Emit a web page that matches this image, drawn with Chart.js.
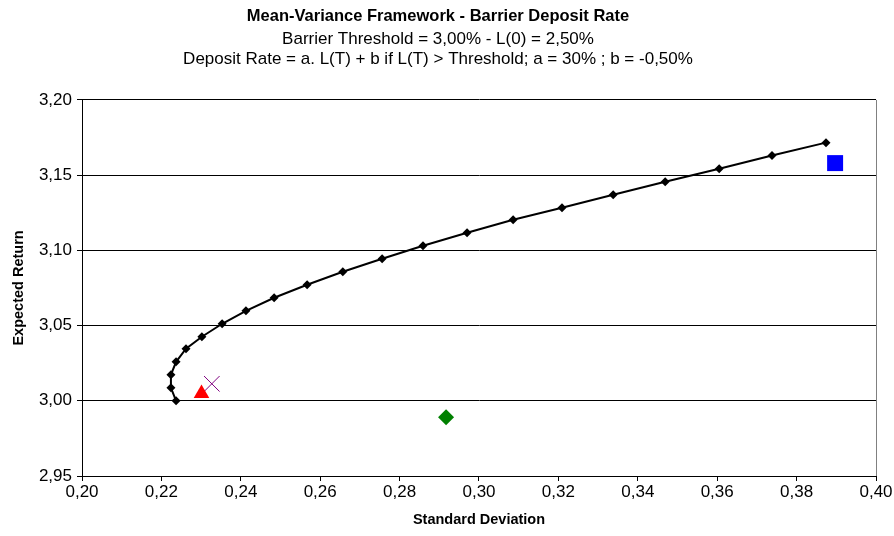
<!DOCTYPE html>
<html>
<head>
<meta charset="utf-8">
<script src="https://cdn.jsdelivr.net/npm/chart.js@4.4.0/dist/chart.umd.min.js"></script>
<style>
  html, body { margin: 0; padding: 0; background: #fff; }
  #wrap { width: 894px; height: 536px; }
</style>
</head>
<body>
<div id="wrap"><canvas id="myChart" width="894" height="536"></canvas></div>
<script>
// efficient frontier
const frontierSd = [0.2237,0.2224,0.2224,0.2237,0.2262,0.2302,0.2353,0.2413,0.2484,0.2567,0.2657,
                    0.2756,0.2859,0.2970,0.3086,0.3209,0.3338,0.3469,0.3605,0.3738,0.3874];
const frontierRet = [3.0000,3.0086,3.0173,3.0259,3.0346,3.0426,3.0512,3.0598,3.0685,3.0771,3.0858,
                     3.0944,3.1031,3.1117,3.1203,3.1283,3.1370,3.1456,3.1543,3.1630,3.1716];
// single portfolios
const triangleSd = [0.2301], triangleRet = [3.0048];
const crossSd = [0.2327], crossRet = [3.0113];
const squareSd = [0.3897], squareRet = [3.1580];
const diamondSd = [0.2917], diamondRet = [2.9890];

const titleText = "Mean-Variance Framework - Barrier Deposit Rate";
const subtitleLines = ["Barrier Threshold = 3,00% - L(0) = 2,50%",
                       "Deposit Rate = a. L(T) + b if L(T) > Threshold; a = 30% ; b = -0,50%"];

function toPoints(xs, ys)
{
  let pts = [];
  for (var i = 0; i < xs.length; i++)
    pts.push({x: xs[i], y: ys[i]});
  return pts;
}
function comma(v)
{
  return v.toFixed(2).replace('.', ',');
}

// gray border on the right side of the plot area
const plotBorder = {
  id: 'plotBorder',
  afterDraw(chart) {
    const a = chart.chartArea, ctx = chart.ctx;
    ctx.save();
    ctx.strokeStyle = '#808080';
    ctx.lineWidth = 1;
    ctx.beginPath();
    ctx.moveTo(Math.round(a.right) + 0.5, a.top);
    ctx.lineTo(Math.round(a.right) + 0.5, a.bottom);
    ctx.stroke();
    ctx.restore();
  }
};

Chart.defaults.font.family = "'Liberation Sans', Arial, sans-serif";
Chart.defaults.color = '#000';

const ctx = document.getElementById('myChart').getContext('2d');
const myChart = new Chart(ctx, {
  type: 'scatter',
  data: {
    datasets: [
      {
        data: toPoints(frontierSd, frontierRet),
        showLine: true,
        borderColor: '#000',
        borderWidth: 2,
        pointStyle: 'rectRot',
        pointRadius: 4.5,
        backgroundColor: '#000',
        pointBorderWidth: 0,
        tension: 0
      },
      {
        data: toPoints(triangleSd, triangleRet),
        pointStyle: 'triangle',
        pointRadius: 9,
        backgroundColor: '#ff0000',
        borderColor: '#ff0000',
        pointBorderWidth: 0
      },
      {
        data: toPoints(crossSd, crossRet),
        pointStyle: 'crossRot',
        pointRadius: 11,
        borderColor: '#800080',
        pointBorderWidth: 1
      },
      {
        data: toPoints(squareSd, squareRet),
        pointStyle: 'rect',
        pointRadius: 11.3,
        backgroundColor: '#0000ff',
        borderColor: '#0000ff',
        pointBorderWidth: 0
      },
      {
        data: toPoints(diamondSd, diamondRet),
        pointStyle: 'rectRot',
        pointRadius: 8,
        backgroundColor: '#008000',
        borderColor: '#008000',
        pointBorderWidth: 0
      }
    ]
  },
  options: {
    responsive: false,
    animation: false,
    layout: { padding: { left: 0, right: 18, top: 0, bottom: 0 } },
    plugins: {
      legend: { display: false },
      tooltip: { enabled: false },
      title: {
        display: true,
        text: titleText,
        font: { size: 16.5, weight: 'bold', lineHeight: 1.2 },
        padding: { top: 7, bottom: 2 }
      },
      subtitle: {
        display: true,
        text: subtitleLines,
        font: { size: 17, lineHeight: 1.18 },
        color: '#000',
        padding: { top: 0, bottom: 31 }
      }
    },
    scales: {
      x: {
        type: 'linear',
        min: 0.20,
        max: 0.40,
        afterFit: function(s) { s.height = 60; },
        ticks: {
          stepSize: 0.02,
          font: { size: 17 },
          padding: 1,
          maxRotation: 0,
          callback: function(v) { return comma(v); }
        },
        grid: { drawOnChartArea: false, color: '#000', tickLength: 5 },
        border: { color: '#000' },
        title: {
          display: true,
          text: 'Standard Deviation',
          font: { size: 14.5, weight: 'bold' },
          padding: { top: 0, bottom: 7 }
        }
      },
      y: {
        type: 'linear',
        min: 2.95,
        max: 3.20,
        afterFit: function(s) { s.width = 82; },
        ticks: {
          stepSize: 0.05,
          font: { size: 17 },
          padding: 5,
          callback: function(v) { return comma(v); }
        },
        grid: { color: '#000', tickLength: 5 },
        border: { color: '#000' },
        title: {
          display: true,
          text: 'Expected Return',
          font: { size: 14.5, weight: 'bold' },
          padding: { top: 10, bottom: 0 }
        }
      }
    }
  },
  plugins: [plotBorder]
});
</script>
</body>
</html>
